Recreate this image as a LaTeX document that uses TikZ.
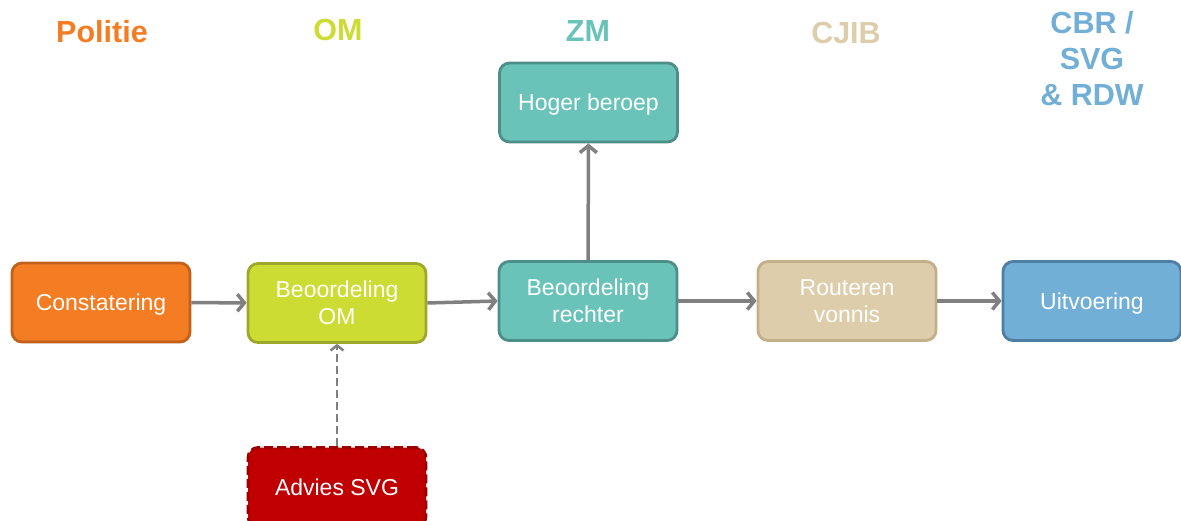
\documentclass[tikz,border=0pt]{standalone}
\usepackage{fontspec}
\setmainfont{Liberation Sans}
\usetikzlibrary{arrows.meta}
\definecolor{orF}{HTML}{F47C22}\definecolor{orD}{HTML}{C2611A}
\definecolor{omF}{HTML}{CDDC33}\definecolor{omD}{HTML}{9DA82A}
\definecolor{zmF}{HTML}{6AC3B8}\definecolor{zmD}{HTML}{4D8F88}
\definecolor{cjF}{HTML}{DDCDAA}\definecolor{cjD}{HTML}{C3AF8A}
\definecolor{blF}{HTML}{72AFD6}\definecolor{blD}{HTML}{4E7EA2}
\definecolor{rdF}{HTML}{C00000}\definecolor{rdD}{HTML}{9A0000}
\definecolor{arr}{HTML}{808080}
\tikzset{
  procbox/.style={rounded corners=10pt, line width=2.8pt, minimum width=178pt, minimum height=79pt,
    inner sep=0pt, align=center, text=white, font=\fontsize{23}{27}\selectfont},
  oneline/.style={text height=16.5pt, text depth=0pt},
  hdr/.style={font=\fontsize{30.5}{36}\selectfont\bfseries, align=center, inner sep=0pt},
  flow/.style={draw=arr, line width=3.5pt, -{Straight Barb[length=7pt,width=17pt]}},
}
\begin{document}
\begin{tikzpicture}[x=1pt,y=-1pt]
\useasboundingbox (0,0) rectangle (1181,521);
% headers
\node[hdr, text=orF, anchor=base] (hpol) at (102,43) {Politie};
\node[hdr, text=omF, anchor=base] (hom) at (338,41) {OM};
\node[hdr, text=zmF, anchor=base] (hzm) at (588,42) {ZM};
\node[hdr, text=cjF, anchor=base] (hcj) at (846,44) {CJIB};
\node[hdr, text=blF, anchor=north] (hbl) at (1092,11) {CBR /\\SVG\\\& RDW};
% boxes
\node[procbox, oneline, fill=orF, draw=orD] (cons) at (101,302.5) {Constatering};
\node[procbox, fill=omF, draw=omD] (om) at (337,303) {Beoordeling\\OM};
\node[procbox, fill=zmF, draw=zmD] (rech) at (588,301) {Beoordeling\\rechter};
\node[procbox, oneline, fill=zmF, draw=zmD] (hoger) at (588.5,102.5) {Hoger beroep};
\node[procbox, fill=cjF, draw=cjD] (cjib) at (847,301) {Routeren\\vonnis};
\node[procbox, oneline, fill=blF, draw=blD] (uit) at (1092,301) {Uitvoering};
\node[procbox, oneline, fill=rdF, draw=rdD, dash pattern=on 9pt off 4pt] (adv) at (337,487) {Advies SVG};
% connectors
\draw[flow] (cons) -- (om);
\draw[flow] (om.east) -- (rech.west);
\draw[flow] (rech) -- (cjib);
\draw[flow] (cjib) -- (uit);
\draw[flow] (rech) -- (hoger);
\draw[flow, line width=2.5pt, dash pattern=on 8pt off 4pt, -{Straight Barb[length=5pt,width=13pt]}] (adv) -- (om);
\end{tikzpicture}
\end{document}
